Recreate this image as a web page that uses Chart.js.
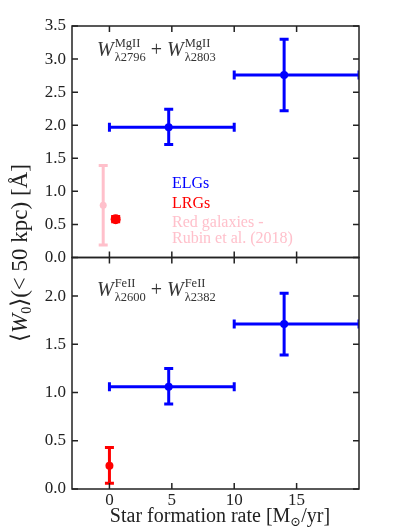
<!DOCTYPE html>
<html>
<head>
<meta charset="utf-8">
<script src="https://cdn.jsdelivr.net/npm/chart.js@4.4.1/dist/chart.umd.min.js"></script>
<style>
  html, body { margin: 0; padding: 0; background: #fff; }
  #wrap { position: relative; width: 399px; height: 532px; }
</style>
</head>
<body>
<div id="wrap"><canvas id="sfrChart" width="399" height="532"></canvas></div>
<script>
// --- data ---
// ELG stacks: SFR bins (centre + bin edges)
const elgSfr = [4.75, 14.0];
const elgSfrLo = [0, 10];
const elgSfrHi = [10, 20];

// top panel: MgII 2796 + 2803
const elgMg = [1.97, 2.76];
const elgMgLo = [1.71, 2.22];
const elgMgHi = [2.24, 3.30];
const lrgMgSfr = [0.5];
const lrgMg = [0.58];
const lrgMgLo = [0.54];
const lrgMgHi = [0.62];
const rubinSfr = [-0.5];
const rubinMg = [0.79];
const rubinMgLo = [0.19];
const rubinMgHi = [1.39];

// bottom panel: FeII 2600 + 2382
const elgFe = [1.06, 1.71];
const elgFeLo = [0.88, 1.39];
const elgFeHi = [1.25, 2.03];
const lrgFeSfr = [0];
const lrgFe = [0.24];
const lrgFeLo = [0.06];
const lrgFeHi = [0.43];

// ticks
const xTicks = [0, 5, 10, 15];
const mgTicks = [0, 0.5, 1.0, 1.5, 2.0, 2.5, 3.0, 3.5];
const feTicks = [0, 0.5, 1.0, 1.5, 2.0];

const BLUE = '#0000ff', RED = '#ff0000', PINK = '#ffc0cb', INK = '#222';
const SERIF = '"Liberation Serif", "DejaVu Serif", serif';

function series(label, xs, ys, axis, color, r, err) {
    return {
        label: label,
        data: xs.map((x, i) => ({ x: x, y: ys[i] })),
        yAxisID: axis,
        backgroundColor: color,
        borderColor: color,
        pointRadius: r,
        pointHoverRadius: r,
        borderWidth: 0,
        showLine: false,
        err: err,
        errColor: color
    };
}

// error bars, drawn under the markers
const errorBars = {
    id: 'errorBars',
    beforeDatasetsDraw(chart) {
        const ctx = chart.ctx, a = chart.chartArea;
        const sx = chart.scales.x;
        ctx.save();
        ctx.beginPath();
        ctx.rect(a.left, a.top, a.right - a.left, a.bottom - a.top);
        ctx.clip();
        chart.data.datasets.forEach(ds => {
            const e = ds.err;
            if (!e) return;
            const sy = chart.scales[ds.yAxisID];
            ctx.strokeStyle = ds.errColor;
            ctx.lineWidth = 3;
            ctx.lineCap = 'butt';
            ds.data.forEach((p, i) => {
                const px = sx.getPixelForValue(p.x), py = sy.getPixelForValue(p.y);
                if (e.xlo) {
                    const x0 = sx.getPixelForValue(e.xlo[i]), x1 = sx.getPixelForValue(e.xhi[i]);
                    ctx.beginPath();
                    ctx.moveTo(x0, py); ctx.lineTo(x1, py);
                    ctx.moveTo(x0, py - 4.5); ctx.lineTo(x0, py + 4.5);
                    ctx.moveTo(x1, py - 4.5); ctx.lineTo(x1, py + 4.5);
                    ctx.stroke();
                }
                if (e.ylo) {
                    const y0 = sy.getPixelForValue(e.ylo[i]), y1 = sy.getPixelForValue(e.yhi[i]);
                    ctx.beginPath();
                    ctx.moveTo(px, y0); ctx.lineTo(px, y1);
                    ctx.moveTo(px - 4.5, y0); ctx.lineTo(px + 4.5, y0);
                    ctx.moveTo(px - 4.5, y1); ctx.lineTo(px + 4.5, y1);
                    ctx.stroke();
                }
            });
        });
        ctx.restore();
    }
};

// panel frames + inward ticks on all four sides
const frames = {
    id: 'frames',
    afterDraw(chart) {
        const ctx = chart.ctx, sx = chart.scales.x;
        ctx.save();
        ctx.strokeStyle = INK;
        ctx.lineWidth = 1.5;
        ['yMg', 'yFe'].forEach(id => {
            const s = chart.scales[id];
            const l = sx.left, r = sx.right, t = s.top, b = s.bottom;
            ctx.strokeRect(l, t, r - l, b - t);
            ctx.beginPath();
            s.ticks.forEach(tk => {
                const y = s.getPixelForValue(tk.value);
                ctx.moveTo(l, y); ctx.lineTo(l + 6, y);
                ctx.moveTo(r, y); ctx.lineTo(r - 6, y);
            });
            xTicks.forEach(v => {
                const x = sx.getPixelForValue(v);
                ctx.moveTo(x, b); ctx.lineTo(x, b - 6);
                ctx.moveTo(x, t); ctx.lineTo(x, t + 6);
            });
            ctx.stroke();
        });
        ctx.restore();
    }
};

// draw "W^sup_sub" and return the x after it
function wTerm(ctx, x, y, sup, sub) {
    ctx.font = 'italic 20px ' + SERIF;
    ctx.fillText('W', x, y);
    x += ctx.measureText('W').width + 1;
    ctx.font = '12.5px ' + SERIF;
    ctx.fillText(sup, x, y - 9);
    ctx.fillText(sub, x, y + 5);
    return x + Math.max(ctx.measureText(sup).width, ctx.measureText(sub).width);
}

function lineLabel(ctx, x, y, a, b) {
    ctx.fillStyle = '#333';
    x = wTerm(ctx, x, y, a[0], a[1]);
    ctx.font = '20px ' + SERIF;
    ctx.fillText(' + ', x, y);
    x += ctx.measureText(' + ').width;
    wTerm(ctx, x, y, b[0], b[1]);
}

const texts = {
    id: 'texts',
    afterDraw(chart) {
        const ctx = chart.ctx;
        ctx.save();
        ctx.textBaseline = 'alphabetic';
        ctx.textAlign = 'left';

        lineLabel(ctx, 97, 56, ['MgII', 'λ2796'], ['MgII', 'λ2803']);
        lineLabel(ctx, 97, 296, ['FeII', 'λ2600'], ['FeII', 'λ2382']);

        ctx.font = '16px ' + SERIF;
        ctx.fillStyle = BLUE; ctx.fillText('ELGs', 172, 188);
        ctx.fillStyle = RED; ctx.fillText('LRGs', 172, 208);
        ctx.fillStyle = PINK;
        ctx.fillText('Red galaxies -', 172, 227);
        ctx.fillText('Rubin et al. (2018)', 172, 243);

        // x title
        ctx.fillStyle = INK;
        const xp = [['Star formation rate [M', '20px ' + SERIF, 0], ['⊙', '13px ' + SERIF, 4], ['/yr]', '20px ' + SERIF, 0]];
        let w = 0;
        xp.forEach(p => { ctx.font = p[1]; w += ctx.measureText(p[0]).width; });
        let x = 220 - w / 2;
        xp.forEach(p => { ctx.font = p[1]; ctx.fillText(p[0], x, 522 + p[2]); x += ctx.measureText(p[0]).width; });

        // y title, rotated, spanning both panels
        ctx.translate(27, 253);
        ctx.rotate(-Math.PI / 2);
        const yp = [['⟨', '23px ' + SERIF, 0], ['W', 'italic 23px ' + SERIF, 0], ['0', '14px ' + SERIF, 4], ['⟩(< 50 kpc) [Å]', '23px ' + SERIF, 0]];
        w = 0;
        yp.forEach(p => { ctx.font = p[1]; w += ctx.measureText(p[0]).width; });
        x = -w / 2;
        yp.forEach(p => { ctx.font = p[1]; ctx.fillText(p[0], x, p[2]); x += ctx.measureText(p[0]).width; });
        ctx.restore();
    }
};

function yScale(min, max, ticks) {
    return {
        type: 'linear',
        position: 'left',
        stack: 'panels',
        stackWeight: 1,
        min: min,
        max: max,
        grid: { display: false },
        border: { display: false },
        afterBuildTicks: s => { s.ticks = ticks.map(v => ({ value: v })); },
        afterFit: s => { s.width = 72; },
        ticks: {
            autoSkip: false,
            padding: -2,
            color: INK,
            font: { family: SERIF, size: 17 },
            callback: v => v.toFixed(1)
        }
    };
}

new Chart(document.getElementById('sfrChart').getContext('2d'), {
    type: 'scatter',
    data: {
        datasets: [
            series('Rubin', rubinSfr, rubinMg, 'yMg', PINK, 3.5, { ylo: rubinMgLo, yhi: rubinMgHi }),
            series('LRG MgII', lrgMgSfr, lrgMg, 'yMg', RED, 5, { ylo: lrgMgLo, yhi: lrgMgHi }),
            series('ELG MgII', elgSfr, elgMg, 'yMg', BLUE, 4, { xlo: elgSfrLo, xhi: elgSfrHi, ylo: elgMgLo, yhi: elgMgHi }),
            series('LRG FeII', lrgFeSfr, lrgFe, 'yFe', RED, 4, { ylo: lrgFeLo, yhi: lrgFeHi }),
            series('ELG FeII', elgSfr, elgFe, 'yFe', BLUE, 4, { xlo: elgSfrLo, xhi: elgSfrHi, ylo: elgFeLo, yhi: elgFeHi })
        ]
    },
    options: {
        responsive: false,
        animation: false,
        layout: { padding: { top: 26, right: 40, left: 0, bottom: 0 } },
        plugins: { legend: { display: false }, tooltip: { enabled: false } },
        scales: {
            x: {
                type: 'linear',
                position: 'bottom',
                min: -3,
                max: 20,
                grid: { display: false },
                border: { display: false },
                afterBuildTicks: s => { s.ticks = xTicks.map(v => ({ value: v })); },
                afterFit: s => { s.height = 43; },
                ticks: {
                    autoSkip: false,
                    padding: -7,
                    color: INK,
                    font: { family: SERIF, size: 17 },
                    callback: v => String(v)
                }
            },
            yFe: yScale(0, 2.4, feTicks),
            yMg: yScale(0, 3.5, mgTicks)
        }
    },
    plugins: [errorBars, frames, texts]
});
</script>
</body>
</html>
